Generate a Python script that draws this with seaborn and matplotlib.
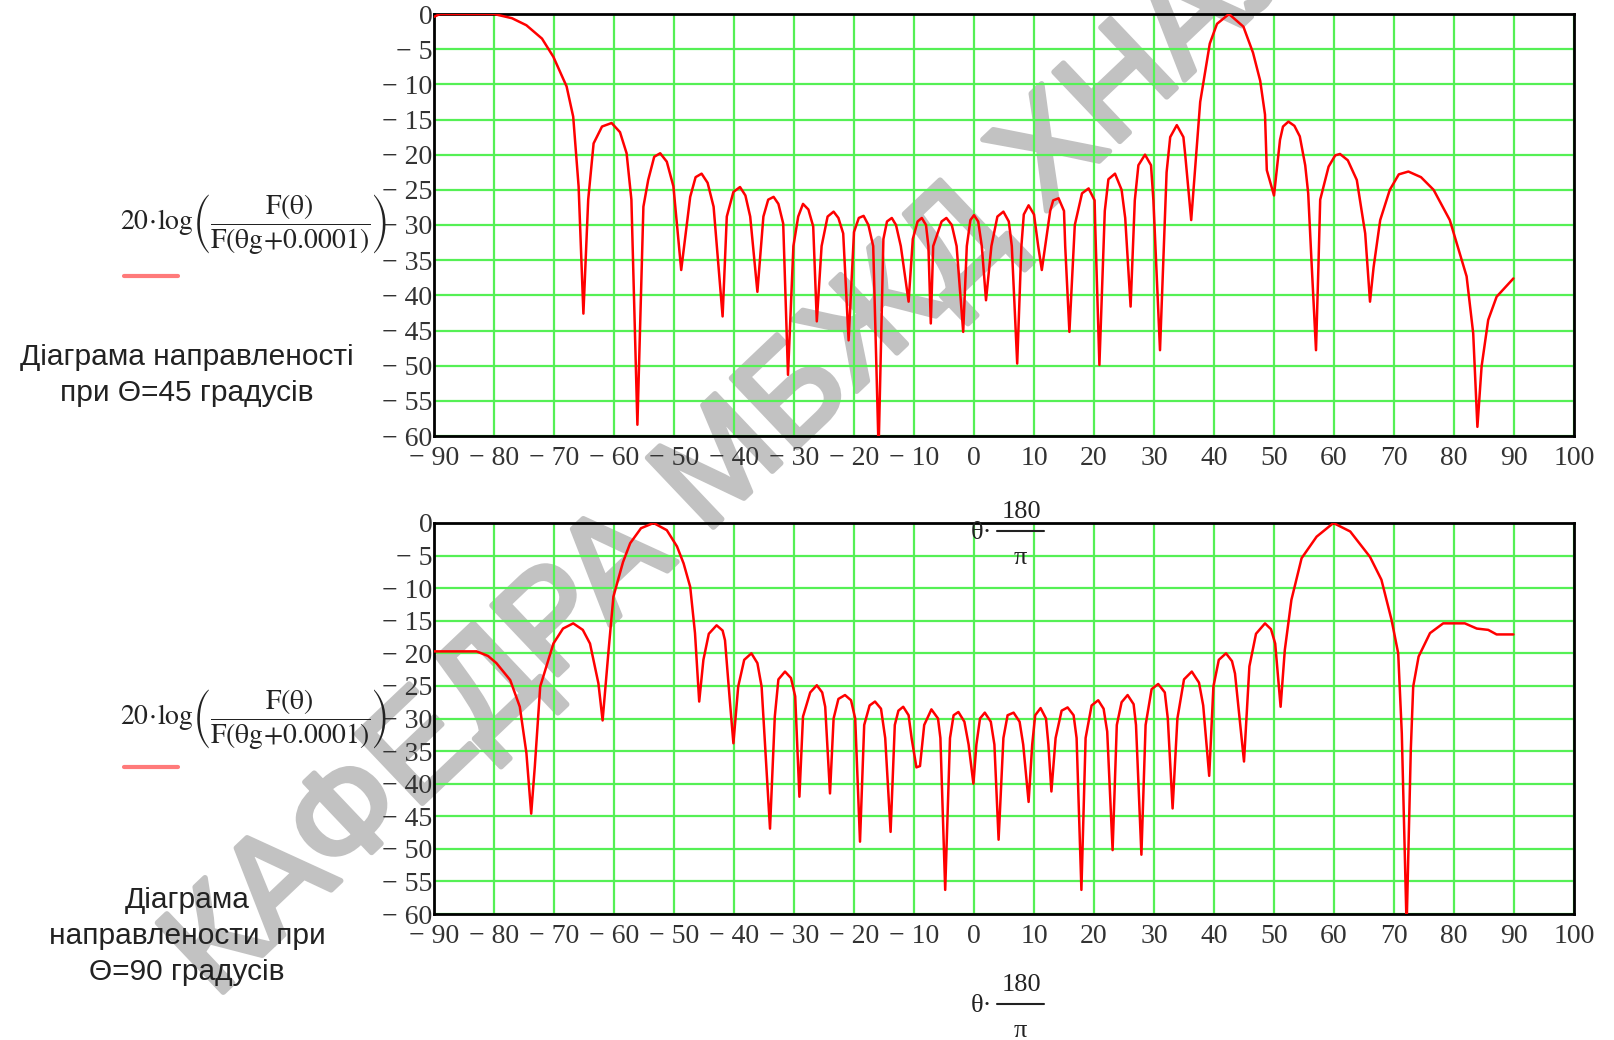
import matplotlib
matplotlib.use('Agg')
import matplotlib.pyplot as plt
import matplotlib.transforms as mtrans
import matplotlib.patheffects as pe
from matplotlib.lines import Line2D
import seaborn as sns

# angle (deg) and level (dB)
theta45 = [-90, -89, -80, -77, -74.6, -72, -70.1, -67.9, -66.8, -65.9, -65.1, -64.3, -63.4, -62, -60.4,
           -59, -57.9, -57.1, -56.1, -55.1, -54.3, -53.3, -52.3, -51.2, -50.1, -48.8, -47.3, -46.4, -45.4,
           -44.4, -43.4, -41.9, -41.2, -40.1, -39.0, -38.1, -37.3, -36.1, -35.1, -34.3, -33.4, -32.6, -31.8,
           -31.0, -30.1, -29.3, -28.5, -27.6, -26.8, -26.2, -25.4, -24.4, -23.4, -22.6, -21.8, -20.9, -20.0,
           -19.2, -18.4, -17.6, -16.8, -15.9, -15.1, -14.5, -13.7, -13.0, -12.2, -10.9, -10.2, -9.4, -8.7,
           -8.0, -7.6, -7.2, -6.8, -5.4, -4.6, -3.7, -2.9, -1.8, -1.2, -0.6, 0, 0.7, 1.3, 2.0, 2.9, 3.9, 4.9,
           5.8, 6.3, 7.2, 7.9, 8.3, 9.1, 10.0, 10.7, 11.3, 12.7, 13.2, 14.1, 15.0, 15.2, 15.9, 16.8, 18.0,
           19.1, 20.1, 20.2, 20.9, 21.8, 22.4, 23.5, 24.6, 25.2, 26.1, 26.8, 27.4, 28.5, 29.5, 29.9, 31.0,
           32.1, 32.7, 33.8, 34.9, 35.2, 36.2, 36.8, 37.7, 39.3, 40.5, 42.5, 44.9, 46.5, 47.7, 48.5, 48.8,
           50.0, 51.0, 51.5, 52.4, 53.4, 54.3, 55.2, 55.7, 56.3, 57.0, 57.4, 57.7, 59.1, 60.2, 61.0, 62.3,
           63.8, 65.2, 66.0, 66.6, 67.7, 69.3, 70.8, 72.4, 74.5, 76.6, 79.3, 82.1, 83.2, 83.9, 84.6, 85.7,
           87.1, 89.9]
level45 = [-0.4, 0, 0, -0.6, -1.6, -3.5, -6.1, -10.3, -14.6, -24.5, -42.6, -26.4, -18.4, -16, -15.5,
           -16.8, -19.8, -26.4, -58.4, -27.4, -23.6, -20.3, -19.8, -21, -24.5, -36.4, -26, -23.2, -22.7,
           -24, -27.4, -43, -28.8, -25.3, -24.6, -25.8, -28.8, -39.5, -28.8, -26.4, -26, -27, -29.8,
           -51.3, -33, -28.8, -27, -27.8, -30.2, -43.7, -33, -28.8, -28.1, -29, -31.2, -46.4, -31,
           -29, -28.7, -30, -33, -62, -32, -29.5, -29, -30, -33, -40.9, -32, -29.5, -29,
           -30, -33, -44, -33, -29.5, -29, -30, -33, -45.2, -33, -29.3, -28.6, -29.5, -33, -40.7, -33, -28.8, -28.1,
           -29.5, -33, -49.7, -33, -28.5, -27.2, -28.5, -33, -36.4, -28, -26.5, -26.2, -28, -33, -45.2, -30, -25.5,
           -24.8, -26.5, -30, -49.9, -28, -23.5, -22.7, -25, -29, -41.6, -26.5, -21.5, -20, -21.5, -26.5, -47.8,
           -22.5, -17.5, -15.8, -17.5, -20, -29.3, -22.5, -12.5, -4.2, -1.4, 0, -1.8, -5.5, -9.5, -14.3, -22.2,
           -25.8, -17.9, -16, -15.3, -15.9, -17.4, -21.5, -25.5, -36, -47.8, -36, -26.4, -21.7, -20.1, -19.9, -20.8,
           -23.6, -31.2, -40.9, -36, -29.3, -25, -22.8, -22.4, -23.2, -25, -29.3, -37.3, -45.4, -58.7, -50.1, -43.5,
           -40.2, -37.6]

theta90 = [-90, -82.9, -81, -79.6, -77.3, -75.7, -74.6, -73.8, -73.2, -72.3, -70.1, -68.5, -66.8, -65.2,
           -64.0, -62.6, -61.9, -60.9, -60.1, -58.5, -57.3, -55.5, -53.4, -51.2, -49.5, -48.4, -47.3, -46.5,
           -45.8, -45.1, -44.2, -42.9, -41.9, -41.5, -40.7, -40.1, -39.3, -38.3, -37.1, -36.1, -35.4, -34.0,
           -33.2, -32.6, -31.5, -30.5, -29.8, -29.1, -28.5, -27.3, -26.2, -25.3, -24.8, -24.0, -23.4, -22.6,
           -21.5, -20.5, -19.8, -19.0, -18.3, -17.4, -16.5, -15.5, -14.8, -13.9, -13.2, -12.6, -11.8, -10.9,
           -10.4, -9.6, -9.0, -8.3, -7.1, -6.0, -5.6, -4.8, -4.0, -3.4, -2.6, -1.6, -0.9, -0.1, 0.4, 1.0, 1.8,
           2.8, 3.4, 4.1, 4.9, 5.6, 6.6, 7.6, 8.2, 9.1, 9.7, 10.2, 11.1, 12.0, 12.4, 12.9, 13.6, 14.6, 15.6,
           16.6, 17.1, 17.9, 18.6, 19.6, 20.7, 21.6, 22.2, 23.1, 23.8, 24.6, 25.6, 26.6, 27.0, 27.9, 28.6,
           29.6, 30.7, 31.8, 32.3, 33.1, 33.9, 35.0, 36.3, 37.5, 38.2, 39.2, 39.9, 40.8, 42.0, 43.0, 43.5,
           45.0, 45.9, 47.0, 48.5, 49.5, 50.2, 51.1, 51.8, 52.9, 54.6, 57.1, 59.9, 62.7, 66.0, 67.9, 69.6,
           70.7, 71.3, 72.1, 72.8, 73.2, 74.1, 76.0, 78.2, 81.8, 83.8, 85.7, 87.1, 89.9]
level90 = [-19.7, -19.7, -20.4, -21.5, -24.1, -28.2, -35.3, -44.6, -37.4, -25.1, -18.5, -16.2, -15.4, -16.4,
           -18.5, -24.6, -30.3, -19.5, -11.3, -6, -3.1, -0.8, 0, -1.1, -3.6, -6.2, -9.8, -16.9,
           -27.4, -21, -17, -15.7, -16.5, -18, -27.2, -33.8, -25.1, -21, -20, -21.5, -25.1, -46.9,
           -29.7, -24, -22.8, -23.8, -26.6, -42, -29.7, -26, -24.9, -26, -28.2, -41.5, -30, -27,
           -26.4, -27.2, -30, -48.9, -31, -28, -27.4, -28.5, -33, -47.4, -31, -28.8, -28.2, -29.5,
           -33, -37.5, -37.3, -31, -28.6, -30, -33, -56.3, -33, -29.5, -29, -30.5, -34, -40, -34, -30, -29.1,
           -30.5, -34, -48.6, -33, -29.5, -29.1, -30.5, -34, -42.8, -34, -29.5, -28.4, -30, -34, -41.2, -33, -28.8, -28.3,
           -29.5, -33, -56.3, -33, -28, -27.2, -28.5, -32, -50.2, -31, -27.5, -26.4, -27.8, -31, -50.9, -31,
           -25.5, -24.7, -26, -30, -43.8, -30, -24, -22.8, -24.5, -28, -38.8, -25.1, -21, -20, -21.2, -23.1,
           -36.6, -22, -17, -15.4, -16.3, -18.5, -28.2, -19.5, -11.8, -5.4, -2.1, 0, -1.3, -5.2, -8.7, -14.9,
           -20, -32.3, -62, -34.8, -25.1, -20.5, -16.9, -15.4, -15.4, -16.2, -16.4, -17.1, -17.1]

x_ticks = list(range(-90, 101, 10))
y_ticks = list(range(0, -61, -5))
titles = ["Діаграма направленості\nпри Θ=45 градусів",
          "Діаграма\nнаправлености  при\nΘ=90 градусів"]
y_formula = r'$20\!\cdot\!\log\!\left(\dfrac{\mathrm{F(\theta)}}{\mathrm{F(\theta g\!+\!0.0001)}}\right)$'
watermark = 'КАФЕДРА МБЖД ХНАУ'

sns.set_theme(style='white')
plt.rcParams['font.family'] = ['Liberation Serif', 'DejaVu Serif']
plt.rcParams['mathtext.fontset'] = 'stix'

W, H = 1614, 1040
fig = plt.figure(figsize=(W / 100, H / 100), dpi=100)
fig.patch.set_facecolor('white')


def fx(px):
    return px / W


def fy(py):
    return 1 - py / H


def lab(v):
    return ('\u2212 %d' % abs(v)) if v < 0 else str(v)


panels = [
    (theta45, level45, 14, 436, 224, 276, 375, 512),
    (theta90, level90, 523, 914, 719, 767, 936, 985),
]

for i, (xs, ys, top, bot, f_y, sw_y, t_y, lab_y) in enumerate(panels):
    ax = fig.add_axes([fx(434), fy(bot), fx(1574) - fx(434), (bot - top) / H])
    ax.set_facecolor('none')  # let the watermark show under the grid
    sns.lineplot(x=xs, y=ys, ax=ax, color='#ff0000', lw=1.8, sort=False, estimator=None, zorder=3)
    ax.set_xlim(-90, 100)
    ax.set_ylim(-60, 0)
    ax.set_xticks(x_ticks)
    ax.set_xticklabels([lab(v) for v in x_ticks], fontsize=20, color='#333333')
    ax.set_yticks(y_ticks)
    ax.set_yticklabels([lab(v) for v in y_ticks], fontsize=20, color='#333333')
    off = mtrans.ScaledTranslation(7 / 100, 0, fig.dpi_scale_trans)
    for t in ax.get_xticklabels():
        t.set_transform(t.get_transform() + off)
    ax.tick_params(axis='both', length=0)
    ax.tick_params(axis='x', pad=7)
    ax.tick_params(axis='y', pad=1)
    ax.grid(True, color='#55f055', lw=1.6)
    ax.set_axisbelow(True)
    for s in ax.spines.values():
        s.set_color('black')
        s.set_linewidth(2)
    ax.set_xlabel('')
    ax.set_ylabel('')

    # y formula, legend swatch and title on the left
    fig.text(fx(254), fy(f_y), y_formula, fontsize=20, ha='center', va='center', color='#222222')
    fig.add_artist(Line2D([fx(124), fx(178)], [fy(sw_y), fy(sw_y)], color='#ff7a7a', lw=3))
    fig.text(fx(187), fy(t_y), titles[i], fontsize=21.5, ha='center', va='center',
             family=['Liberation Sans', 'DejaVu Sans'], color='#222222', linespacing=1.35)

    # x label: theta * 180 / pi
    fig.text(fx(1021), fy(lab_y), '180', fontsize=19, ha='center', va='center', color='#222222')
    fig.add_artist(Line2D([fx(997), fx(1044)], [fy(lab_y + 19), fy(lab_y + 19)], color='#222222', lw=1.5))
    fig.text(fx(1020), fy(lab_y + 46), '\u03c0', fontsize=19, ha='center', va='center', color='#222222')
    fig.text(fx(982), fy(lab_y + 21), '\u03b8\u00b7', fontsize=19, ha='center', va='center', color='#222222')

# grey watermark across the page, drawn under the plot contents
fig.text(fx(215), fy(1000), watermark, fontsize=100, rotation=43.5,
         rotation_mode='anchor', ha='left', va='baseline', color='#c2c2c2',
         family=['Liberation Sans', 'DejaVu Sans'], zorder=-1,
         path_effects=[pe.withStroke(linewidth=4, foreground='#c2c2c2')])

fig.savefig('out.png', dpi=100)
